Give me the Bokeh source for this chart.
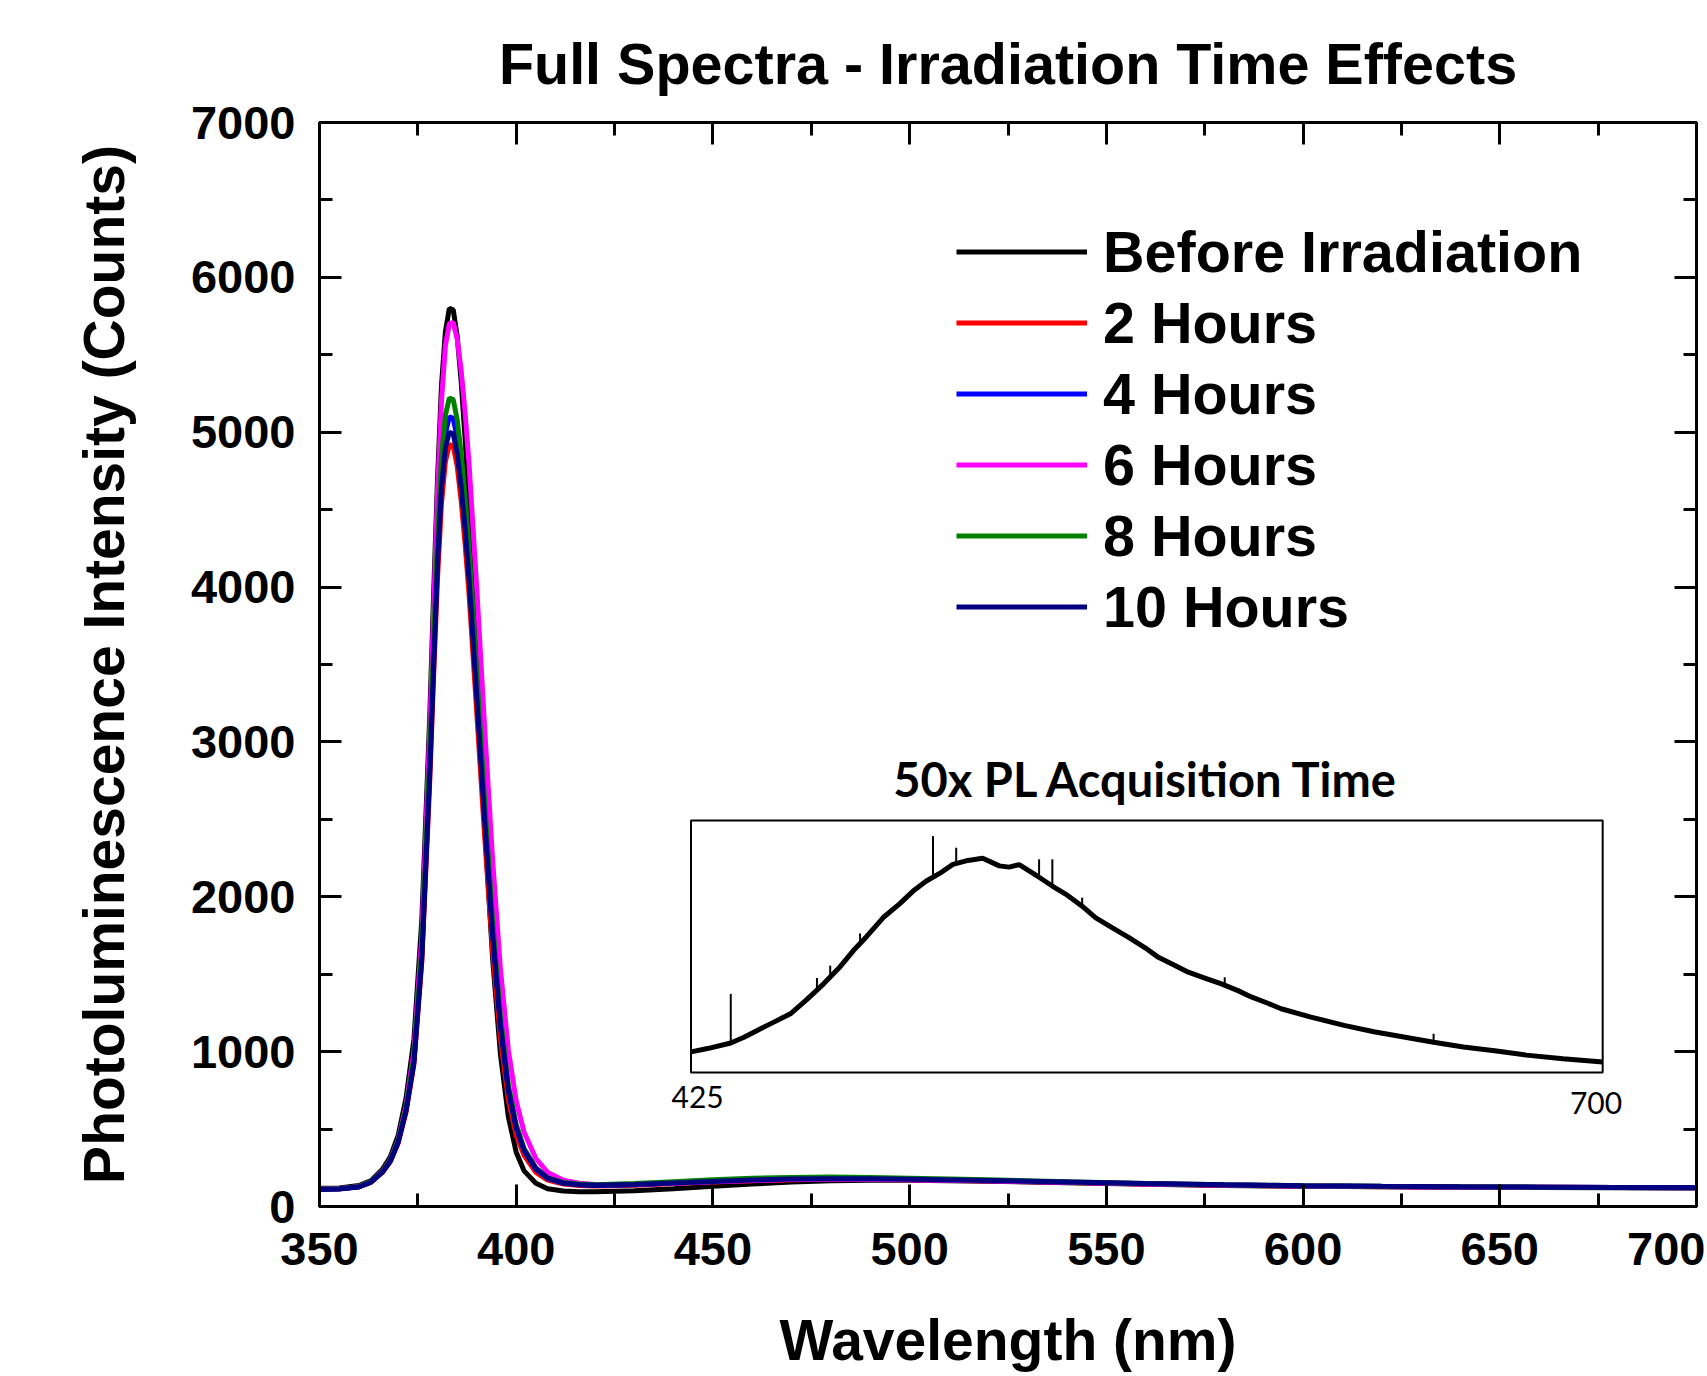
from bokeh.plotting import figure
from bokeh.models import Range1d, LinearAxis, SingleIntervalTicker, Legend, LegendItem, CustomJSTickFormatter
from bokeh.core.properties import value
from bokeh.embed import file_html
from bokeh.resources import INLINE

FONT = "Liberation Sans"
INSET_FONT = "Lato"

# ---------------- data ----------------
wavelength = [350, 355, 360, 363, 366, 368, 370, 372, 374, 376, 378, 379, 380, 381, 382, 383, 384,
              385, 386, 387, 388, 390, 392, 394, 396, 398, 400, 402, 405, 408, 412, 416, 420, 430,
              440, 450, 460, 470, 480, 490, 500, 520, 540, 560, 580, 600, 620, 640, 660, 680, 700]

before_irradiation = [118, 120, 135, 165, 240, 320, 460, 700, 1080, 1850, 3150, 3950, 4700, 5300, 5650, 5800, 5790,
                      5620, 5330, 4960, 4520, 3450, 2450, 1600, 980, 580, 350, 230, 150, 115, 100, 96, 96, 102,
                      115, 130, 145, 158, 166, 170, 170, 163, 153, 143, 136, 130, 127, 125, 123, 121, 120]
hours_2 = [112, 115, 128, 155, 220, 290, 410, 610, 920, 1580, 2730, 3420, 4060, 4540, 4810, 4920, 4910,
           4780, 4560, 4280, 3960, 3180, 2380, 1650, 1080, 690, 460, 330, 220, 170, 145, 136, 133, 138,
           148, 158, 167, 173, 176, 175, 172, 165, 155, 145, 138, 132, 128, 126, 124, 122, 121]
hours_4 = [112, 115, 128, 157, 225, 295, 420, 625, 945, 1630, 2830, 3540, 4220, 4720, 4990, 5100, 5090,
           4960, 4740, 4460, 4130, 3330, 2520, 1770, 1170, 750, 505, 360, 240, 180, 150, 140, 136, 141,
           151, 161, 170, 176, 179, 178, 175, 167, 157, 147, 139, 133, 129, 126, 124, 122, 121]
hours_6 = [112, 115, 128, 158, 228, 300, 430, 650, 1000, 1740, 3050, 3850, 4620, 5200, 5560, 5700, 5710,
           5600, 5400, 5130, 4800, 3980, 3080, 2240, 1530, 1010, 680, 480, 310, 220, 170, 150, 142, 143,
           150, 160, 168, 174, 177, 176, 173, 166, 156, 146, 139, 133, 129, 126, 124, 122, 121]
hours_8 = [112, 115, 128, 157, 226, 298, 425, 635, 960, 1660, 2890, 3620, 4320, 4840, 5110, 5220, 5210,
           5080, 4860, 4580, 4250, 3440, 2610, 1840, 1220, 785, 530, 375, 250, 185, 155, 145, 141, 148,
           160, 172, 182, 188, 190, 188, 183, 172, 160, 149, 141, 134, 130, 127, 125, 122, 121]
hours_10 = [110, 113, 126, 155, 222, 292, 415, 620, 930, 1600, 2780, 3480, 4150, 4640, 4900, 5000, 4990,
            4860, 4650, 4380, 4060, 3280, 2490, 1760, 1170, 755, 510, 365, 245, 183, 152, 141, 137, 142,
            152, 162, 171, 177, 180, 179, 176, 168, 158, 148, 140, 134, 130, 127, 125, 123, 122]

series_labels = ["Before Irradiation", "2 Hours", "4 Hours", "6 Hours", "8 Hours", "10 Hours"]
series_values = [before_irradiation, hours_2, hours_4, hours_6, hours_8, hours_10]
series_colors = ["#000000", "#ff0000", "#0000ff", "#ff00ff", "#008000", "#000080"]

# inset (50x acquisition) — relative intensity
inset_wavelength = [425, 430, 437, 441, 446, 450, 455, 460, 465, 470, 474, 478, 483, 488, 492, 496, 500,
                    504, 508, 513, 518, 521, 524, 527, 530, 534, 538, 543, 547, 552, 557, 562, 566, 571,
                    575, 580, 585, 590, 594, 599, 603, 612, 622, 631, 640, 649, 658, 668, 677, 688, 700]
inset_intensity = [0.082, 0.095, 0.117, 0.14, 0.174, 0.20, 0.233, 0.29, 0.352, 0.42, 0.484, 0.54, 0.615,
                   0.67, 0.72, 0.76, 0.79, 0.826, 0.84, 0.85, 0.82, 0.815, 0.825, 0.80, 0.775, 0.74, 0.708,
                   0.66, 0.615, 0.575, 0.536, 0.495, 0.457, 0.425, 0.398, 0.375, 0.352, 0.325, 0.30, 0.275,
                   0.253, 0.22, 0.187, 0.162, 0.141, 0.12, 0.101, 0.085, 0.069, 0.055, 0.042]
spike_wavelength = [437, 463, 467, 476, 498, 505, 530, 534, 543, 586, 649]
spike_base = [0.117, 0.33, 0.37, 0.50, 0.775, 0.826, 0.775, 0.745, 0.66, 0.352, 0.12]
spike_top = [0.312, 0.375, 0.424, 0.552, 0.938, 0.892, 0.846, 0.846, 0.694, 0.378, 0.154]
inset_x_bounds = [425, 700]
inset_y_bounds = [0, 1]
inset_tick_labels = ["425", "700"]
inset_title = "50x PL Acquisition Time"

# ---------------- figure ----------------
p = figure(width=1705, height=1374, x_range=Range1d(350, 700), y_range=Range1d(0, 7000),
           output_backend="svg", toolbar_location=None,
           min_border_left=319, min_border_right=9, min_border_top=122, min_border_bottom=168)
p.title.text = "Full Spectra - Irradiation Time Effects"
p.title.text_font = FONT
p.title.text_font_size = "57.5px"
p.title.text_font_style = "bold"
p.title.text_color = "black"
p.title.align = "center"
p.title.standoff = 53

p.xgrid.visible = False
p.ygrid.visible = False
p.outline_line_color = "black"
p.outline_line_width = 3
p.background_fill_color = "white"
p.border_fill_color = "white"

p.xaxis.ticker = SingleIntervalTicker(interval=50, num_minor_ticks=2)
p.yaxis.ticker = SingleIntervalTicker(interval=1000, num_minor_ticks=2)
p.xaxis.axis_label = "Wavelength (nm)"
p.yaxis.axis_label = "Photoluminescence Intensity (Counts)"

def style_axis(ax):
    ax.axis_line_width = 3
    ax.axis_line_color = "black"
    ax.major_tick_line_width = 3
    ax.minor_tick_line_width = 3
    ax.major_tick_in = 22
    ax.major_tick_out = 0
    ax.minor_tick_in = 13
    ax.minor_tick_out = 0
    ax.major_label_text_font = FONT
    ax.major_label_text_font_style = "bold"
    ax.major_label_text_font_size = "47px"
    ax.axis_label_text_font = FONT
    ax.axis_label_text_font_style = "bold"
    ax.axis_label_text_font_size = "57px"
    ax.axis_label_text_color = "black"
    ax.major_label_text_color = "black"

for ax in p.xaxis + p.yaxis:
    style_axis(ax)
p.xaxis.major_label_standoff = 26
p.xaxis.axis_label_standoff = 40
p.yaxis.major_label_standoff = 24
p.yaxis.axis_label_standoff = 52

blank = CustomJSTickFormatter(code="return ''")
top_axis = LinearAxis(ticker=SingleIntervalTicker(interval=50, num_minor_ticks=2), formatter=blank,
                      major_label_standoff=0)
right_axis = LinearAxis(ticker=SingleIntervalTicker(interval=1000, num_minor_ticks=2), formatter=blank,
                        major_label_standoff=0)
style_axis(top_axis)
style_axis(right_axis)
p.add_layout(top_axis, "above")
p.add_layout(right_axis, "right")

items = []
for label, vals, color in zip(series_labels, series_values, series_colors):
    r = p.line(wavelength, vals, line_color=color, line_width=5)
    items.append(LegendItem(label=label, renderers=[r]))

legend = Legend(items=items, location=(637, 564),
                label_text_font=FONT, label_text_font_style="bold", label_text_font_size="57.5px",
                label_text_color="black",
                glyph_width=131, glyph_height=71, label_height=71, spacing=0, padding=0, margin=0,
                label_standoff=16, border_line_alpha=0, background_fill_alpha=0)
p.add_layout(legend)

# ---------------- inset (own scales) ----------------
p.extra_x_ranges = {"ix": Range1d(312.95, 728.3)}
p.extra_y_ranges = {"iy": Range1d(-0.5317, 3.770)}

p.quad(left=[inset_x_bounds[0]], right=[inset_x_bounds[1]], bottom=[inset_y_bounds[0]], top=[inset_y_bounds[1]],
       x_range_name="ix", y_range_name="iy", fill_color="white", line_color="black", line_width=2)
p.line(inset_wavelength, inset_intensity, x_range_name="ix", y_range_name="iy",
       line_color="black", line_width=5)
p.segment(x0=spike_wavelength, y0=spike_base, x1=spike_wavelength, y1=spike_top,
          x_range_name="ix", y_range_name="iy", line_color="black", line_width=2)
p.text(x=[562.5], y=[1.163], text=[inset_title], x_range_name="ix", y_range_name="iy",
       text_font=value(INSET_FONT), text_font_style="bold", text_font_size="47px",
       text_align="center", text_baseline="middle", text_color="black")
p.text(x=[427, 698], y=[-0.099, -0.119], text=inset_tick_labels, x_range_name="ix", y_range_name="iy",
       text_font=value(INSET_FONT), text_font_size="30px",
       text_align="center", text_baseline="middle", text_color="black")

open("out.html", "w").write(file_html(p, INLINE))
